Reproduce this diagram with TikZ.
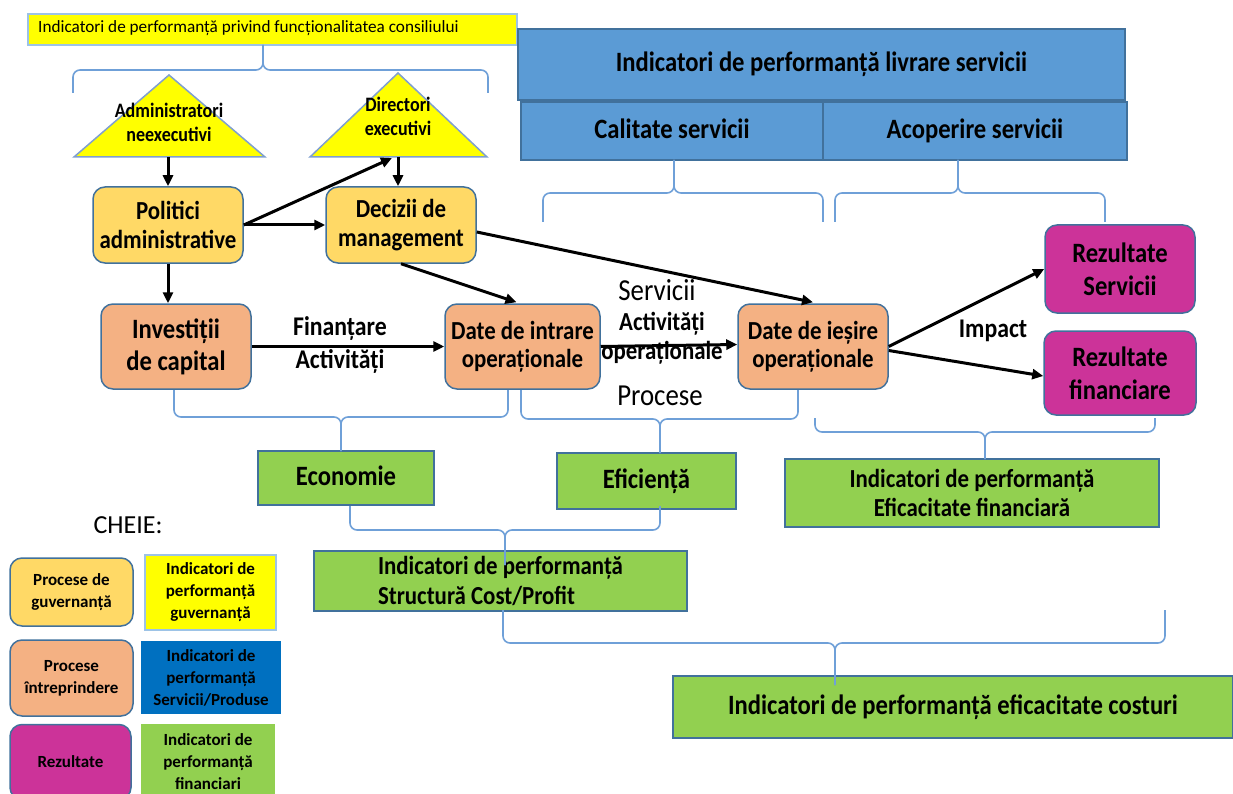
\documentclass[tikz,border=0pt]{standalone}
\usepackage{fontspec}
\setmainfont[FakeStretch=0.88]{Carlito}
\newfontfamily\plainfam{Carlito}
\usetikzlibrary{arrows.meta}
\definecolor{govc}{HTML}{FFD966}
\definecolor{entc}{HTML}{F4B183}
\definecolor{resc}{HTML}{CC3399}
\definecolor{hdrc}{HTML}{5B9BD5}
\definecolor{legblue}{HTML}{0070C0}
\definecolor{grc}{HTML}{92D050}
\definecolor{yelc}{HTML}{FFFF00}
\definecolor{bord}{HTML}{41719C}
\definecolor{lbord}{HTML}{9DC3E6}
\definecolor{tribord}{HTML}{7F9FCF}
\definecolor{brcc}{HTML}{6FA0D8}
\newcommand{\fs}[2]{\fontsize{#1}{#2}\selectfont}
\newcommand{\mybrc}[6]{%
  \draw[brc] (#1,#3) |- (#5,#4) -- (#5,#6);
  \draw[brc] (#2,#3) |- (#5,#4) -- (#5,#6);}
\begin{document}
\begin{tikzpicture}[x=1pt,y=-1pt,
  rbox/.style={draw=bord, line width=1.5pt, rounded corners=12pt, align=center, inner sep=0pt},
  gov/.style={rbox, fill=govc, minimum width=150pt, minimum height=76pt, font=\bfseries\fs{26}{29}},
  ent/.style={rbox, fill=entc, minimum height=85pt},
  res/.style={rbox, fill=resc, font=\bfseries\fs{28}{33}},
  one/.style={text height=20pt, text depth=5pt},
  hdr/.style={draw=bord, line width=1.5pt, fill=hdrc, inner sep=0pt, align=center, font=\bfseries\fs{28}{32}},
  grn/.style={draw=bord, line width=1.5pt, fill=grc, inner sep=0pt, align=center},
  lab/.style={inner sep=0pt, align=center},
  tri/.style={draw=tribord, line width=1.5pt, fill=yelc},
  arr/.style={-{Triangle[length=11pt,width=10pt]}, line width=3pt},
  brc/.style={draw=brcc, line width=1.6pt, rounded corners=7pt},
  leg/.style={inner sep=0pt, align=center, font=\plainfam\bfseries\fs{17}{22}},
]
\useasboundingbox (0,0) rectangle (1233,794);

% top yellow banner
\node[draw=lbord, line width=1.5pt, fill=yelc, minimum width=489pt, minimum height=31pt, inner sep=0pt] (ban) at (272.5,29.5) {};
\node[lab, anchor=west, font=\plainfam\fs{17.2}{20}] (bantxt) at (38,28) {Indicatori de performanță privind funcționalitatea consiliului};

% blue header boxes
\node[hdr, one, minimum width=607pt, minimum height=71pt] (hdr) at (821.5,64.5) {Indicatori de performanță livrare servicii};
\node[hdr, one, minimum width=302pt, minimum height=58pt] (cal) at (672,131) {Calitate servicii};
\node[hdr, one, minimum width=304pt, minimum height=58pt] (aco) at (975,131) {Acoperire servicii};

% triangles
\draw[tri] (169,75) -- (265,157) -- (74,157) -- cycle;
\draw[tri] (398,73) -- (487,157) -- (310,157) -- cycle;
\coordinate (admB) at (168,157);
\coordinate (dirB) at (398,157);
\coordinate (dirB2) at (392,158);
\node[lab, font=\bfseries\fs{20.5}{24}] (admtxt) at (169,122) {Administratori\\neexecutivi};
\node[lab, font=\bfseries\fs{20.5}{24}] (dirtxt) at (398,116) {Directori\\executivi};

% process boxes
\node[gov] (pol) at (168,225) {Politici\\administrative};
\node[gov] (dec) at (401,225) {Decizii de\\management};
\node[ent, minimum width=150pt, font=\bfseries\fs{28}{32}] (inv) at (176,346.5) {Investiții\\de capital};
\node[ent, minimum width=155pt, font=\bfseries\fs{26}{28}] (din) at (522.5,346.5) {Date de intrare\\operaționale};
\node[ent, minimum width=150pt, font=\bfseries\fs{26}{28}] (die) at (813,346.5) {Date de ieșire\\operaționale};
\node[res, minimum width=150pt, minimum height=88pt] (rs) at (1120,269) {Rezultate\\Servicii};
\node[res, minimum width=152pt, minimum height=84pt] (rf) at (1120,373) {Rezultate\\financiare};

% arrows
\draw[arr] (admB) -- (pol.north);
\draw[arr] (dirB) -- (dirB |- dec.north);
\draw[arr] (pol.east) -- (dirB2);
\draw[arr] (pol.east) -- (dec.west);
\draw[arr] (pol.south) -- (pol.south |- inv.north);
\draw[arr] (dec.south) -- ([xshift=-6pt,yshift=1pt]din.north);
\draw[arr] ([yshift=-7pt]dec.east) -- ([yshift=1pt]die.north);
\draw[arr] (inv.east) -- (din.west);
\draw[arr] (din.east) -- ([yshift=2pt]die.west);
\draw[arr] (die.east) -- (rs.west);
\draw[arr] ([yshift=-4pt]die.east) -- ([yshift=-3pt]rf.west);

% arrow labels
\node[lab, font=\bfseries\fs{27}{33}] (fin) at (340,345) {Finanțare\\Activități};
\node[lab, font=\fs{30.5}{30}] (serv) at (657,290) {Servicii};
\node[lab, font=\bfseries\fs{26}{29}] (actop) at (662,338) {Activități\\operaționale};
\node[lab, font=\fs{30.5}{30}] (proc) at (660,396) {Procese};
\node[lab, font=\bfseries\fs{27}{28}] (imp) at (993,331) {Impact};

% green boxes
\node[grn, one, minimum width=176pt, minimum height=54pt, font=\bfseries\fs{28}{30}] (eco) at (346,478) {Economie};
\node[grn, one, minimum width=179pt, minimum height=56pt, font=\bfseries\fs{28}{30}] (efi) at (646.5,481) {Eficiență};
\node[grn, minimum width=374pt, minimum height=68pt, font=\bfseries\fs{26}{29}] (efin) at (972,493) {Indicatori de performanță\\Eficacitate financiară};
\node[grn, minimum width=373pt, minimum height=60pt, align=left, font=\bfseries\fs{26}{30}] (str) at (500.5,581) {Indicatori de performanță\\Structură Cost/Profit};
\node[grn, one, minimum width=560pt, minimum height=62pt, font=\bfseries\fs{28}{30}] (ecos) at (953,707) {Indicatori de performanță eficacitate costuri};

% braces
\mybrc{73}{488}{93}{70}{263}{45}
\mybrc{543}{823}{222}{193}{674}{160}
\mybrc{835}{1105}{222}{193}{958}{160}
\mybrc{174}{508}{390}{417}{341}{451}
\mybrc{521}{798}{390}{419}{660}{453}
\mybrc{815}{1155}{418}{432}{985}{459}
\mybrc{350}{660}{506}{530}{505}{565}
\mybrc{503}{1165}{610}{643}{835}{685}

% legend
\node[lab, font=\plainfam\fs{26}{30}] (cheie) at (128,525) {CHEIE:};
\node[rbox, fill=govc, minimum width=123pt, minimum height=68pt, leg] (l1) at (71.5,592) {Procese de\\guvernanță};
\node[draw=lbord, line width=1.5pt, fill=yelc, minimum width=131pt, minimum height=75pt, leg] (l2) at (210.5,592.5) {Indicatori de\\performanță\\guvernanță};
\node[rbox, fill=entc, minimum width=123pt, minimum height=76pt, leg] (l3) at (71.5,678) {Procese\\întreprindere};
\node[fill=legblue, minimum width=140pt, minimum height=73pt, leg] (l4) at (211,677.5) {Indicatori de\\performanță\\Servicii/Produse};
\node[rbox, fill=resc, minimum width=121pt, minimum height=75pt, leg] (l5) at (70.5,762) {Rezultate};
\node[fill=grc, minimum width=134pt, minimum height=76pt, leg] (l6) at (208,762) {Indicatori de\\performanță\\financiari};
\end{tikzpicture}
\end{document}
